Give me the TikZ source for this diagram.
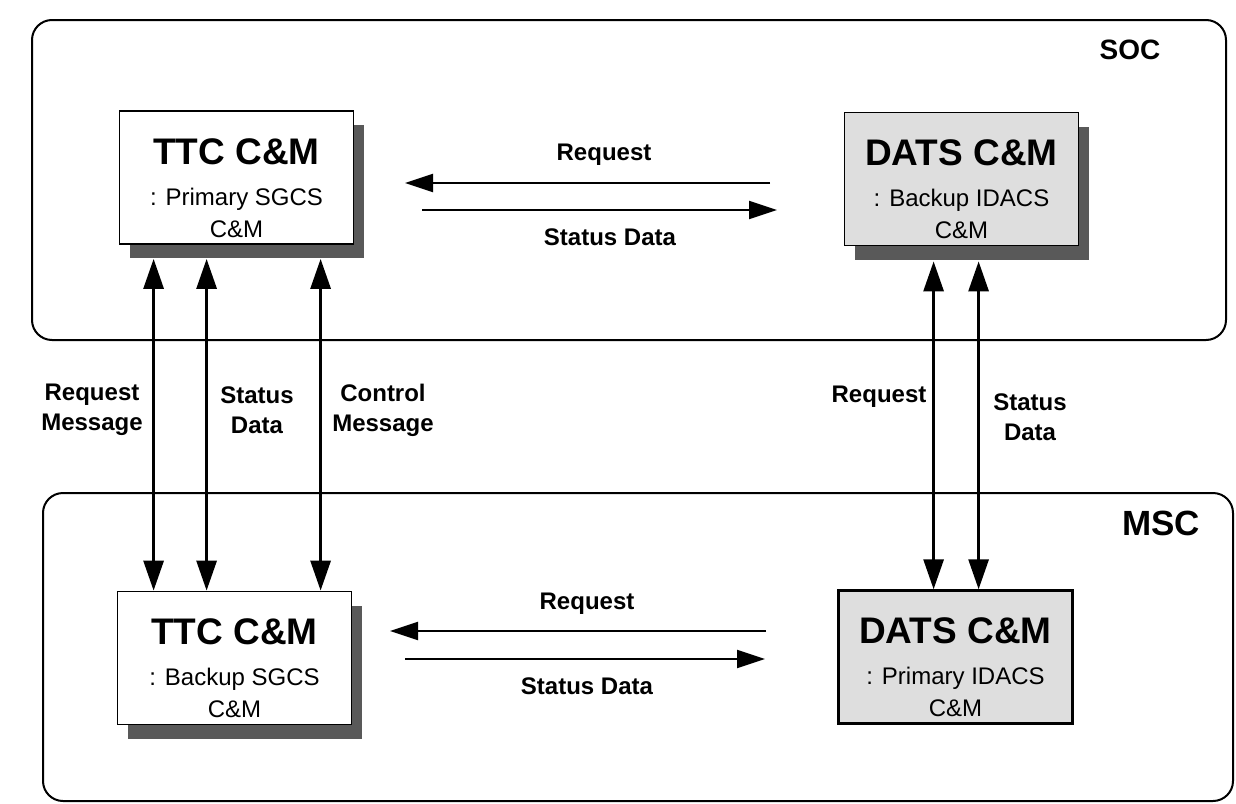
\documentclass[tikz,border=0pt]{standalone}
\usepackage{fontspec}
\setmainfont{Liberation Sans}
\usetikzlibrary{arrows.meta,calc,shadows}
\newcommand\cmtitle[1]{{\fontsize{18.5pt}{20pt}\selectfont\bfseries #1}}
\begin{document}
\begin{tikzpicture}[x=0.5pt,y=-0.5pt,
  frame/.style={draw=black,line width=1pt,rounded corners=10pt,inner sep=0pt},
  cmbox/.style={draw=black,line width=0.9pt,minimum width=117pt,minimum height=66.5pt,inner sep=0pt},
  shadowed/.style={drop shadow={shadow xshift=5pt,shadow yshift=-7pt,fill=black!65,opacity=1}},
  ttcbox/.style={cmbox,fill=white,shadowed},
  datsbox/.style={cmbox,fill=black!13},
  boxtext/.style={anchor=north,inner sep=0pt,align=center,font=\fontsize{12pt}{16pt}\selectfont},
  lbl/.style={font=\fontsize{12pt}{15pt}\selectfont\bfseries,align=center,inner sep=0pt},
  harr/.style={line width=1pt,-{Triangle[length=14pt,width=9pt]}},
  varr/.style={line width=1.5pt,{Triangle[length=15pt,width=10pt]}-{Triangle[length=15pt,width=10pt]}},
]
\useasboundingbox (0,0) rectangle (1236,803);
\clip (0,0) rectangle (1236,803);
\fill[white] (0,0) rectangle (1236,803);

% frames
\node[frame,minimum width=597pt,minimum height=160pt] (soc) at (629,180) {};
\node[frame,minimum width=595pt,minimum height=154pt] (msc) at (638,647) {};
\node[font=\fontsize{14pt}{16pt}\selectfont\bfseries,inner sep=0pt] (soclbl) at (1130,50) {SOC};
\node[font=\fontsize{17.5pt}{20pt}\selectfont\bfseries,inner sep=0pt] (msclbl) at (1161,523) {MSC};

% boxes
\node[ttcbox] (ttcA) at (236.5,177.5) {};
\node[datsbox,shadowed] (datsA) at (961.5,179) {};
\node[ttcbox] (ttcB) at (234.5,658) {};
\node[datsbox,line width=1.2pt] (datsB) at (955.5,657) {};

\node[boxtext] (ttcAt) at ($(ttcA.north)+(0,28)$) {\cmtitle{TTC C\&M}\\[4.5pt]: Primary SGCS\\C\&M};
\node[boxtext] (datsAt) at ($(datsA.north)+(0,28)$) {\cmtitle{DATS C\&M}\\[4.5pt]: Backup IDACS\\C\&M};
\node[boxtext] (ttcBt) at ($(ttcB.north)+(0,28)$) {\cmtitle{TTC C\&M}\\[4.5pt]: Backup SGCS\\C\&M};
\node[boxtext] (datsBt) at ($(datsB.north)+(0,28)$) {\cmtitle{DATS C\&M}\\[4.5pt]: Primary IDACS\\C\&M};

% horizontal arrows (top)
\coordinate (rqA1) at (770,183);
\coordinate (rqA2) at (405,183);
\coordinate (sdA1) at (422,210);
\coordinate (sdA2) at (777,210);
\draw[harr] (rqA1) -- (rqA2);
\draw[harr] (sdA1) -- (sdA2);
\node[lbl] (rqAl) at (604,155) {Request};
\node[lbl] (sdAl) at (610,237) {Status Data};

% horizontal arrows (bottom)
\coordinate (rqB1) at (766,631);
\coordinate (rqB2) at (390,631);
\coordinate (sdB1) at (405,659);
\coordinate (sdB2) at (765,659);
\draw[harr] (rqB1) -- (rqB2);
\draw[harr] (sdB1) -- (sdB2);
\node[lbl] (rqBl) at (587,604) {Request};
\node[lbl] (sdBl) at (587,686) {Status Data};

% vertical arrows (left)
\coordinate (v1) at ($(ttcA.south west)+(35,14)$);
\coordinate (v2) at ($(ttcA.south west)+(88,14)$);
\coordinate (v3) at ($(ttcA.south west)+(202,14)$);
\draw[varr] (v1) -- (v1 |- ttcB.north);
\draw[varr] (v2) -- (v2 |- ttcB.north);
\draw[varr] (v3) -- (v3 |- ttcB.north);
\node[lbl] (l1) at (92,410) {Request\\Message};
\node[lbl] (l2) at (257,410) {Status\\Data};
\node[lbl] (l3) at (383,410) {Control\\Message};

% vertical arrows (right)
\coordinate (v4) at ($(datsA.south west)+(90,15)$);
\coordinate (v5) at ($(datsA.south west)+(135,15)$);
\draw[varr] (v4) -- (v4 |- datsB.north);
\draw[varr] (v5) -- (v5 |- datsB.north);
\node[lbl] (l4) at (879,397) {Request};
\node[lbl] (l5) at (1030,417) {Status\\Data};
\end{tikzpicture}
\end{document}
